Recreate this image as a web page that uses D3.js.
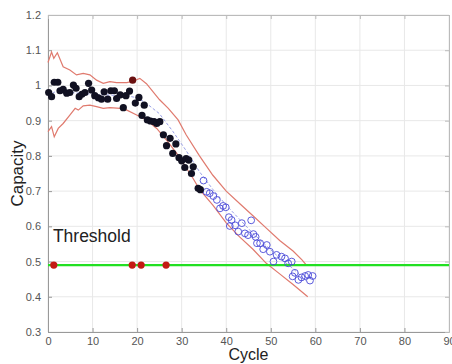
<!DOCTYPE html>
<html>
<head>
<meta charset="utf-8">
<script src="https://cdn.jsdelivr.net/npm/d3@7"></script>
<style>
  body { margin: 0; background: #fff; }
  svg { font-family: "Liberation Sans", Arial, sans-serif; }
</style>
</head>
<body>
<svg id="chart"></svg>
<script>
// measured capacity (black dots) and predicted capacity (blue circles)
const blackCycle = [0.15, 0.8, 1.4, 2.2, 2.7, 3.4, 4.2, 4.9, 5.7, 6.3, 7.0, 7.6, 8.3, 9.1, 9.8, 10.5, 11.3, 12.0, 12.6, 13.4,
  14.1, 14.9, 15.4, 16.2, 16.9, 17.5, 18.3, 19.6, 20.4, 21.1, 21.6, 22.3, 23.0, 23.8, 24.4, 25.1, 25.9, 26.6, 27.4, 28.0,
  28.7, 29.4, 30.0, 30.7, 31.0, 31.6, 32.2, 32.6, 33.7, 34.2];
const blackCap = [0.980, 0.968, 1.009, 1.009, 0.985, 0.989, 0.978, 0.980, 1.001, 0.992, 0.968, 0.975, 0.980, 1.006, 0.987, 0.971, 0.965, 0.961, 0.982, 0.961,
  0.985, 0.985, 0.963, 0.973, 0.937, 0.971, 0.984, 0.950, 0.966, 0.915, 0.944, 0.902, 0.899, 0.897, 0.892, 0.897, 0.860, 0.829, 0.850, 0.807,
  0.834, 0.795, 0.786, 0.767, 0.792, 0.788, 0.750, 0.769, 0.708, 0.704];

const outlierCycle = [19.0];
const outlierCap = [1.015];

const blueCycle = [34.9, 35.6, 36.3, 37.1, 37.9, 38.6, 39.3, 39.9, 40.6, 41.2, 40.8, 42.0, 42.7, 43.5, 44.2, 44.9, 45.6, 46.1, 46.6, 46.9,
  47.6, 48.3, 49.1, 49.8, 50.6, 51.3, 52.4, 53.2, 53.9, 54.7, 55.4, 54.9, 56.2, 56.9, 57.7, 58.4, 59.4, 58.8];
const blueCap = [0.730, 0.698, 0.694, 0.686, 0.675, 0.651, 0.658, 0.654, 0.626, 0.618, 0.601, 0.603, 0.585, 0.609, 0.580, 0.575, 0.617, 0.578, 0.570, 0.552,
  0.552, 0.535, 0.547, 0.528, 0.500, 0.519, 0.514, 0.509, 0.495, 0.500, 0.468, 0.458, 0.448, 0.455, 0.459, 0.462, 0.459, 0.446];

// confidence bounds (red) and mean prediction (blue dashed)
const upperCycle = [0, 0.8, 1.3, 2.1, 3.4, 4.9, 6.4, 7.9, 9.4, 10.9, 12.4, 13.9, 15.4, 17.7, 19.0, 20.6, 22.1, 25.0, 27.0, 29.2,
  31.0, 34.0, 37.0, 40.0, 43.0, 46.0, 49.0, 52.0, 55.0, 57.0, 58.0];
const upperCap = [1.065, 1.095, 1.077, 1.093, 1.053, 1.044, 1.030, 1.034, 1.030, 1.015, 1.006, 1.011, 1.008, 1.008, 1.012, 1.020, 1.005, 0.960, 0.935, 0.902,
  0.860, 0.800, 0.745, 0.700, 0.665, 0.630, 0.595, 0.560, 0.530, 0.505, 0.490];

const lowerCycle = [0, 0.8, 1.4, 2.3, 3.4, 4.9, 6.1, 6.8, 7.9, 9.4, 10.9, 12.4, 13.9, 16.2, 17.7, 19.9, 22.1, 24.4, 26.6, 28.9,
  31.1, 32.6, 34.0, 37.0, 40.0, 43.0, 46.0, 49.0, 52.0, 55.0, 58.3];
const lowerCap = [0.869, 0.883, 0.854, 0.878, 0.892, 0.916, 0.935, 0.930, 0.942, 0.944, 0.940, 0.935, 0.937, 0.935, 0.930, 0.916, 0.902, 0.878, 0.845, 0.807,
  0.765, 0.735, 0.705, 0.660, 0.610, 0.570, 0.535, 0.495, 0.465, 0.435, 0.400];

const meanCycle = [0, 2, 5, 10, 15, 18, 20, 22, 25, 28, 31, 34, 37, 40, 43, 46, 49, 52, 55, 58];
const meanCap = [0.970, 0.985, 0.980, 0.975, 0.972, 0.970, 0.965, 0.950, 0.920, 0.870, 0.815, 0.755, 0.705, 0.660, 0.620, 0.580, 0.545, 0.510, 0.480, 0.445];

const threshold = 0.49;
const hitCycle = [1.3, 18.9, 20.9, 26.5];

const xTicks = [0, 10, 20, 30, 40, 50, 60, 70, 80, 90];
const yTicks = [0.3, 0.4, 0.5, 0.6, 0.7, 0.8, 0.9, 1.0, 1.1, 1.2];

const margin = { top: 15, right: 3, bottom: 32, left: 48 };
const W = 452, H = 364;
const width = W - margin.left - margin.right;
const height = H - margin.top - margin.bottom;

const svg = d3.select('#chart').attr('width', W).attr('height', H);
const g = svg.append('g').attr('transform', `translate(${margin.left},${margin.top})`);

const x = d3.scaleLinear().domain([0, 90]).range([0, width]);
const y = d3.scaleLinear().domain([0.3, 1.2]).range([height, 0]);

// grid
g.append('g').selectAll('line').data(xTicks).join('line')
  .attr('x1', d => x(d)).attr('x2', d => x(d)).attr('y1', 0).attr('y2', height)
  .attr('stroke', '#e8e8e8');
g.append('g').selectAll('line').data(yTicks).join('line')
  .attr('y1', d => y(d)).attr('y2', d => y(d)).attr('x1', 0).attr('x2', width)
  .attr('stroke', '#e8e8e8');

// axes (box with inward ticks)
const fmt = d => d3.format('~g')(d);
const styleAxis = (sel, col, showText) => {
  sel.select('.domain').attr('stroke', col);
  sel.selectAll('.tick line').attr('stroke', col);
  sel.selectAll('.tick text').attr('fill', '#555').style('font-size', '11px');
  if (!showText) sel.selectAll('.tick text').remove();
};
g.append('g').attr('transform', `translate(0,${height})`)
  .call(d3.axisBottom(x).tickValues(xTicks).tickSizeInner(-4).tickSizeOuter(0).tickPadding(5).tickFormat(fmt))
  .call(s => styleAxis(s, '#999', true));
g.append('g')
  .call(d3.axisLeft(y).tickValues(yTicks).tickSizeInner(-4).tickSizeOuter(0).tickPadding(7).tickFormat(fmt))
  .call(s => styleAxis(s, '#999', true));
g.append('g')
  .call(d3.axisTop(x).tickValues(xTicks).tickSizeInner(-4).tickSizeOuter(0))
  .call(s => styleAxis(s, '#bbb', false));
g.append('g').attr('transform', `translate(${width},0)`)
  .call(d3.axisRight(y).tickValues(yTicks).tickSizeInner(-4).tickSizeOuter(0))
  .call(s => styleAxis(s, '#bbb', false));

const line = d3.line().x(d => x(d[0])).y(d => y(d[1]));

// mean prediction
g.append('path').datum(d3.zip(meanCycle, meanCap))
  .attr('fill', 'none').attr('stroke', '#7f86e0').attr('stroke-width', 0.8)
  .attr('stroke-dasharray', '3,2').attr('d', line);

// bounds
[[upperCycle, upperCap], [lowerCycle, lowerCap]].forEach(([cx, cy]) => {
  g.append('path').datum(d3.zip(cx, cy))
    .attr('fill', 'none').attr('stroke', '#e07a6e').attr('stroke-width', 1.2)
    .attr('d', line);
});

// threshold
g.append('line')
  .attr('x1', x(0)).attr('x2', x(90)).attr('y1', y(threshold)).attr('y2', y(threshold))
  .attr('stroke', '#22e022').attr('stroke-width', 2.2);

g.append('text')
  .attr('x', x(1.1)).attr('y', y(0.556))
  .style('font-size', '17.5px').attr('fill', '#222')
  .text('Threshold');

// blue open circles
g.append('g').selectAll('circle').data(d3.zip(blueCycle, blueCap)).join('circle')
  .attr('cx', d => x(d[0])).attr('cy', d => y(d[1])).attr('r', 3.4)
  .attr('fill', 'none').attr('stroke', '#4a4ad8').attr('stroke-width', 0.9);

// black dots
g.append('g').selectAll('circle').data(d3.zip(blackCycle, blackCap)).join('circle')
  .attr('cx', d => x(d[0])).attr('cy', d => y(d[1])).attr('r', 3.6)
  .attr('fill', '#111122');

g.append('g').selectAll('circle').data(d3.zip(outlierCycle, outlierCap)).join('circle')
  .attr('cx', d => x(d[0])).attr('cy', d => y(d[1])).attr('r', 3.6)
  .attr('fill', '#6a1010');

// threshold hits
g.append('g').selectAll('circle').data(hitCycle).join('circle')
  .attr('cx', d => x(d)).attr('cy', y(threshold)).attr('r', 3.6)
  .attr('fill', '#c41a14');

// labels
svg.append('text')
  .attr('x', margin.left + width / 2).attr('y', H - 4)
  .attr('text-anchor', 'middle').style('font-size', '16px').attr('fill', '#222')
  .text('Cycle');
svg.append('text')
  .attr('transform', `translate(23,${margin.top + height / 2}) rotate(-90)`)
  .attr('text-anchor', 'middle').style('font-size', '17px').attr('fill', '#222')
  .text('Capacity');
</script>
</body>
</html>
